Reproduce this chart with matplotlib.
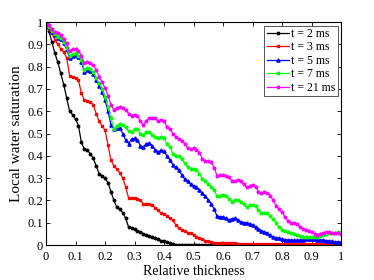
import numpy as np
import matplotlib
matplotlib.use("Agg")
import matplotlib.pyplot as plt

plt.rcParams['font.family'] = ['Liberation Serif', 'DejaVu Serif']

# relative thickness positions (0 .. 1, step 0.01)
x = np.arange(101) / 100.0

sat_2ms = [1.0, 0.96, 0.91, 0.86, 0.82, 0.77, 0.72, 0.66, 0.60, 0.585,
           0.565, 0.535, 0.46, 0.43, 0.425, 0.41, 0.39, 0.355, 0.32, 0.31,
           0.30, 0.28, 0.24, 0.20, 0.17, 0.16, 0.145, 0.12, 0.08, 0.075,
           0.07, 0.065, 0.058, 0.05, 0.046, 0.042, 0.036, 0.03, 0.025, 0.02,
           0.016, 0.012, 0.008, 0.005, 0.002, 0.001, 0, 0, 0, 0,
           0, 0, 0, 0, 0, 0, 0, 0, 0, 0,
           0, 0, 0, 0, 0, 0, 0, 0, 0, 0,
           0, 0, 0, 0, 0, 0, 0, 0, 0, 0,
           0, 0, 0, 0, 0, 0, 0, 0, 0, 0,
           0, 0, 0, 0, 0, 0, 0, 0, 0, 0, 0]

sat_3ms = [1.0, 0.97, 0.95, 0.92, 0.90, 0.88, 0.865, 0.84, 0.76, 0.752,
           0.75, 0.74, 0.68, 0.65, 0.648, 0.642, 0.63, 0.59, 0.555, 0.535,
           0.515, 0.45, 0.38, 0.355, 0.34, 0.325, 0.30, 0.26, 0.21, 0.212,
           0.213, 0.208, 0.20, 0.185, 0.183, 0.186, 0.178, 0.168, 0.155, 0.143,
           0.138, 0.13, 0.12, 0.11, 0.09, 0.078, 0.068, 0.062, 0.056, 0.052,
           0.046, 0.038, 0.03, 0.026, 0.02, 0.016, 0.013, 0.011, 0.01, 0.009,
           0.008, 0.008, 0.007, 0.007, 0.007, 0.006, 0.006, 0.006, 0.006, 0.005,
           0.005, 0.005, 0.005, 0.005, 0.005, 0.004, 0.004, 0.004, 0.004, 0.004,
           0.004, 0.004, 0.004, 0.004, 0.003, 0.003, 0.003, 0.003, 0.003, 0.003,
           0.003, 0.003, 0.003, 0.003, 0.003, 0.003, 0.003, 0.003, 0.003, 0.003, 0.003]

sat_5ms = [1.0, 0.978, 0.957, 0.942, 0.93, 0.925, 0.905, 0.878, 0.84, 0.848,
           0.852, 0.842, 0.822, 0.775, 0.785, 0.78, 0.765, 0.74, 0.715, 0.688,
           0.65, 0.60, 0.54, 0.52, 0.525, 0.525, 0.50, 0.47, 0.455, 0.475,
           0.478, 0.47, 0.445, 0.44, 0.455, 0.457, 0.445, 0.428, 0.418, 0.425,
           0.42, 0.398, 0.382, 0.36, 0.348, 0.335, 0.315, 0.295, 0.288, 0.272,
           0.265, 0.26, 0.248, 0.232, 0.22, 0.20, 0.185, 0.16, 0.128, 0.126,
           0.126, 0.12, 0.112, 0.118, 0.12, 0.112, 0.104, 0.10, 0.099, 0.095,
           0.09, 0.082, 0.072, 0.065, 0.058, 0.054, 0.045, 0.036, 0.032, 0.03,
           0.028, 0.024, 0.022, 0.022, 0.021, 0.022, 0.022, 0.024, 0.026, 0.027,
           0.027, 0.026, 0.024, 0.022, 0.022, 0.02, 0.018, 0.016, 0.015, 0.014, 0.013]

sat_7ms = [1.0, 0.98, 0.96, 0.945, 0.935, 0.93, 0.912, 0.885, 0.848, 0.855,
           0.86, 0.85, 0.83, 0.785, 0.792, 0.788, 0.775, 0.75, 0.725, 0.70,
           0.665, 0.62, 0.57, 0.52, 0.535, 0.545, 0.54, 0.528, 0.51, 0.505,
           0.52, 0.522, 0.50, 0.495, 0.505, 0.507, 0.495, 0.485, 0.48, 0.483,
           0.478, 0.452, 0.44, 0.41, 0.40, 0.398, 0.385, 0.368, 0.348, 0.342,
           0.342, 0.335, 0.32, 0.298, 0.285, 0.275, 0.262, 0.245, 0.218, 0.222,
           0.224, 0.22, 0.208, 0.194, 0.20, 0.20, 0.195, 0.182, 0.17, 0.178,
           0.18, 0.174, 0.158, 0.143, 0.145, 0.142, 0.13, 0.115, 0.098, 0.08,
           0.068, 0.062, 0.057, 0.054, 0.05, 0.045, 0.042, 0.038, 0.036, 0.036,
           0.035, 0.035, 0.036, 0.04, 0.045, 0.05, 0.052, 0.054, 0.055, 0.057, 0.058]

sat_21ms = [1.0, 0.985, 0.97, 0.955, 0.95, 0.94, 0.925, 0.905, 0.87, 0.88,
            0.878, 0.872, 0.85, 0.815, 0.82, 0.815, 0.806, 0.785, 0.755, 0.73,
            0.705, 0.67, 0.63, 0.605, 0.615, 0.62, 0.615, 0.605, 0.59, 0.58,
            0.585, 0.578, 0.555, 0.54, 0.555, 0.568, 0.572, 0.568, 0.555, 0.56,
            0.555, 0.53, 0.52, 0.50, 0.485, 0.475, 0.468, 0.455, 0.435, 0.43,
            0.435, 0.428, 0.415, 0.385, 0.375, 0.378, 0.372, 0.345, 0.31, 0.312,
            0.314, 0.31, 0.303, 0.288, 0.288, 0.29, 0.285, 0.272, 0.258, 0.265,
            0.27, 0.262, 0.24, 0.233, 0.236, 0.235, 0.222, 0.20, 0.175, 0.16,
            0.148, 0.125, 0.108, 0.10, 0.10, 0.095, 0.083, 0.072, 0.066, 0.062,
            0.058, 0.05, 0.045, 0.05, 0.055, 0.057, 0.058, 0.056, 0.054, 0.054, 0.05]

labels = ["t = 2 ms", "t = 3 ms", "t = 5 ms", "t = 7 ms", "t = 21 ms"]


def main():
    fig = plt.figure(figsize=(3.74, 2.8), dpi=100)
    ax = fig.add_axes([0.123, 0.125, 0.789, 0.796])

    ax.plot(x, sat_2ms, color="black", marker="o", ms=1.8, lw=0.9, label=labels[0])
    ax.plot(x, sat_3ms, color="red", marker="s", ms=1.8, lw=0.9, label=labels[1])
    ax.plot(x, sat_5ms, color="blue", marker="^", ms=2.3, lw=0.9, label=labels[2])
    ax.plot(x, sat_7ms, color="#00ff00", marker="*", ms=2.6, lw=0.9, label=labels[3])
    ax.plot(x, sat_21ms, color="magenta", marker="*", ms=2.6, lw=0.9, label=labels[4])

    ax.set_xlim(0, 1)
    ax.set_ylim(0, 1)
    ax.set_xticks(np.arange(11) / 10)
    ax.set_yticks(np.arange(11) / 10)
    ax.set_xticklabels(["0"] + ["%g" % (i / 10) for i in range(1, 10)] + ["1"])
    ax.set_yticklabels(["0"] + ["%g" % (i / 10) for i in range(1, 10)] + ["1"])
    ax.tick_params(direction="in", top=True, right=True, labelsize=9,
                   length=3, width=0.6)
    ax.tick_params(axis="x", pad=4)
    ax.tick_params(axis="y", pad=2)
    for s in ax.spines.values():
        s.set_linewidth(0.8)

    ax.set_xlabel("Relative thickness", fontsize=10, labelpad=2)
    ax.set_ylabel("Local water saturation", fontsize=11, labelpad=3)

    leg = ax.legend(loc="upper right", fontsize=8.5, fancybox=False,
                    edgecolor="#555555", framealpha=1, borderpad=0.2,
                    labelspacing=0.12, handlelength=1.9, handletextpad=0.15,
                    borderaxespad=0.3)
    leg.get_frame().set_linewidth(0.7)

    fig.savefig("out.png", dpi=100)


if __name__ == "__main__":
    main()
